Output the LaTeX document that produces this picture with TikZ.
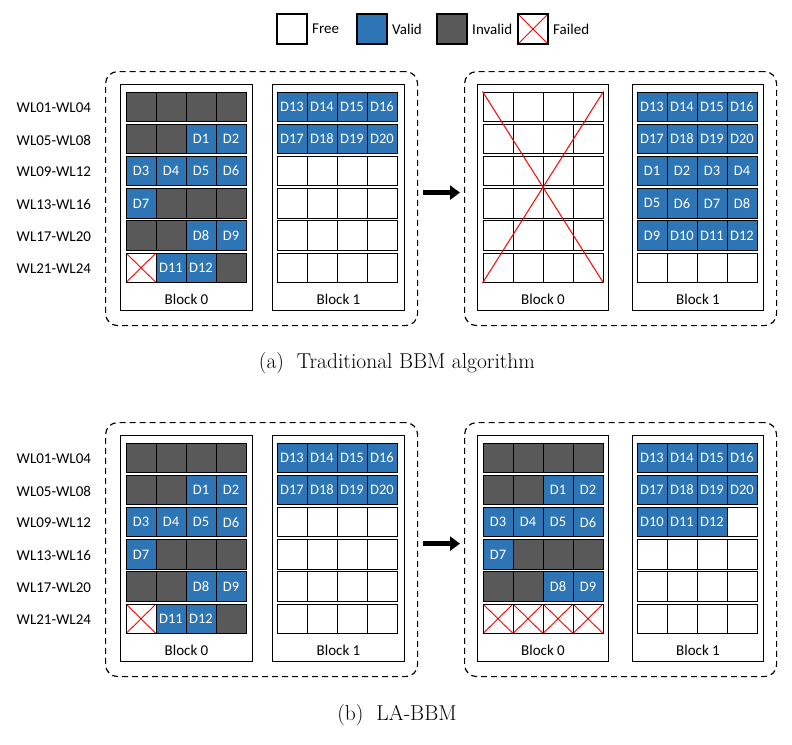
\documentclass[tikz,border=0pt]{standalone}
\usepackage{fontspec}
\newfontfamily\calibri{Carlito}
\usetikzlibrary{positioning,arrows.meta}

\definecolor{validblue}{HTML}{2E75B6}
\definecolor{invalidgrey}{HTML}{595959}

\begin{document}
\begin{tikzpicture}[x=1pt,y=-1pt,
  font=\calibri\fontsize{15}{18}\selectfont,
  cell/.style={draw,line width=1pt,minimum width=30pt,minimum height=29.5pt,
    inner sep=0pt,font=\calibri\fontsize{14.5}{16}\selectfont},
  cellF/.style={cell,fill=white},
  cellV/.style={cell,fill=validblue,text=white},
  cellI/.style={cell,fill=invalidgrey},
  cellX/.style={cell,fill=white,path picture={
    \draw[red,line width=0.9pt]
      (path picture bounding box.south west) -- (path picture bounding box.north east)
      (path picture bounding box.north west) -- (path picture bounding box.south east);}},
  legend box/.style={line width=1.4pt,minimum width=30pt,minimum height=30pt},
  block/.style={draw,line width=1pt,minimum width=132pt,minimum height=226pt,
    anchor=north west,inner sep=0pt},
  panel/.style={draw,dash pattern=on 6pt off 4pt,line width=1.2pt,rounded corners=12pt,
    minimum width=312pt,minimum height=254pt,anchor=north west,inner sep=0pt},
  big arrow/.style={line width=4.5pt,-{Triangle[length=10pt,width=14pt]}},
  caption/.style={font=\fontsize{21.5}{24}\selectfont}]

\useasboundingbox (0,0) rectangle (792,744);

% legend
\node[cellF,legend box] (free) at (292,29) {};
\node[right=1pt of free] {Free};
\node[cellV,legend box] (valid) at (372,29) {};
\node[right=1pt of valid] {Valid};
\node[cellI,legend box] (invalid) at (452,29) {};
\node[right=1pt of invalid] {Invalid};
\node[cellX,legend box] (failed) at (533,29) {};
\node[right=1pt of failed] {Failed};

% left side: the same in (a) and (b)
\foreach \py/\pn in {0/a,351/b} {
\begin{scope}[shift={(0,\py)}]
  \node[panel] (\pn Lbox) at (105,71) {};
  \node[block] (\pn L0) at (120,84) {};
  \node[block] (\pn L1) at (272,84) {};
  \node at ([yshift=12pt]\pn L0.south) {Block 0};
  \node at ([yshift=12pt]\pn L1.south) {Block 1};
  \foreach \row [count=\r] in {{I/{},I/{},I/{},I/{}},{I/{},I/{},V/D1,V/D2},
      {V/D3,V/D4,V/D5,V/D6},{V/D7,I/{},I/{},I/{}},{I/{},I/{},V/D8,V/D9},
      {X/{},V/D11,V/D12,I/{}}}
    \foreach \t/\l [count=\c] in \row
      \node[cell\t] (\pn L0-\r-\c) at ({141+30*(\c-1)},{106.75+32.2*(\r-1)}) {\l};
  \foreach \row [count=\r] in {{V/D13,V/D14,V/D15,V/D16},{V/D17,V/D18,V/D19,V/D20},
      {F/{},F/{},F/{},F/{}},{F/{},F/{},F/{},F/{}},{F/{},F/{},F/{},F/{}},
      {F/{},F/{},F/{},F/{}}}
    \foreach \t/\l [count=\c] in \row
      \node[cell\t] (\pn L1-\r-\c) at ({292+30*(\c-1)},{106.75+32.2*(\r-1)}) {\l};
  \foreach \lab [count=\r] in {WL01-WL04,WL05-WL08,WL09-WL12,WL13-WL16,WL17-WL20,WL21-WL24}
    \node[left=31pt of \pn L0-\r-1.west,yshift=-1pt] (\pn wl\r) {\lab};
\end{scope}
}

% (a) right side
\node[panel] (aRbox) at (464,71) {};
\node[block,minimum width=131pt] (aR0) at (477,84) {};
\node[block,minimum width=131pt] (aR1) at (632,84) {};
\node at ([yshift=12pt]aR0.south) {Block 0};
\node at ([yshift=12pt]aR1.south) {Block 1};
\foreach \r in {1,...,6}
  \foreach \c in {1,...,4}
    \node[cellF] (aR0-\r-\c) at ({498+30*(\c-1)},{106.75+32.2*(\r-1)}) {};
\draw[red,line width=1pt] (aR0-1-1.north west) -- (aR0-6-4.south east)
  (aR0-1-4.north east) -- (aR0-6-1.south west);
\foreach \row [count=\r] in {{V/D13,V/D14,V/D15,V/D16},{V/D17,V/D18,V/D19,V/D20},
    {V/D1,V/D2,V/D3,V/D4},{V/D5,V/D6,V/D7,V/D8},{V/D9,V/D10,V/D11,V/D12},
    {F/{},F/{},F/{},F/{}}}
  \foreach \t/\l [count=\c] in \row
    \node[cell\t] (aR1-\r-\c) at ({652+30*(\c-1)},{106.75+32.2*(\r-1)}) {\l};
\draw[big arrow] ([xshift=5pt,yshift=6pt]aLbox.east) -- ([xshift=-4pt,yshift=6pt]aRbox.west);
\node[caption] (capa) at (397,363) {(a)\hspace{0.6em}Traditional BBM algorithm};

% (b) right side
\node[panel] (bRbox) at (464,422) {};
\node[block,minimum width=131pt] (bR0) at (477,435) {};
\node[block,minimum width=131pt] (bR1) at (632,435) {};
\node at ([yshift=12pt]bR0.south) {Block 0};
\node at ([yshift=12pt]bR1.south) {Block 1};
\foreach \row [count=\r] in {{I/{},I/{},I/{},I/{}},{I/{},I/{},V/D1,V/D2},
    {V/D3,V/D4,V/D5,V/D6},{V/D7,I/{},I/{},I/{}},{I/{},I/{},V/D8,V/D9},
    {X/{},X/{},X/{},X/{}}}
  \foreach \t/\l [count=\c] in \row
    \node[cell\t] (bR0-\r-\c) at ({498+30*(\c-1)},{457.75+32.2*(\r-1)}) {\l};
\foreach \row [count=\r] in {{V/D13,V/D14,V/D15,V/D16},{V/D17,V/D18,V/D19,V/D20},
    {V/D10,V/D11,V/D12,F/{}},{F/{},F/{},F/{},F/{}},{F/{},F/{},F/{},F/{}},
    {F/{},F/{},F/{},F/{}}}
  \foreach \t/\l [count=\c] in \row
    \node[cell\t] (bR1-\r-\c) at ({652+30*(\c-1)},{457.75+32.2*(\r-1)}) {\l};
\draw[big arrow] ([xshift=5pt,yshift=6pt]bLbox.east) -- ([xshift=-4pt,yshift=6pt]bRbox.west);
\node[caption] (capb) at (397,715) {(b)\hspace{0.6em}LA-BBM};

\end{tikzpicture}
\end{document}
